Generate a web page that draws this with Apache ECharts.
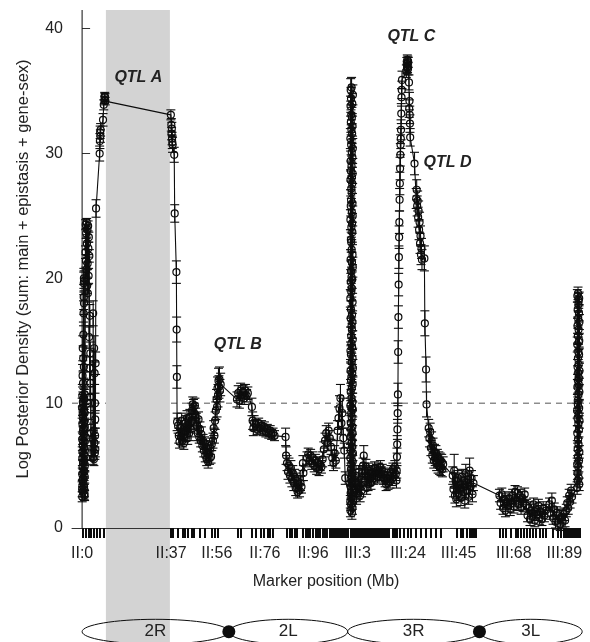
<!DOCTYPE html>
<html>
<head>
<meta charset="utf-8">
<script src="https://cdn.jsdelivr.net/npm/echarts@6/dist/echarts.min.js"></script>
<style>
  html, body { margin: 0; padding: 0; background: #fff; }
  #main { width: 590px; height: 642px; }
</style>
</head>
<body>
<div id="main"></div>
<script>
// [marker position on chromosome (Mb), log posterior density, error half-width]
var chr2 = [
  [0.00, 3.1, 0.6], [0.02, 9.6, 0.8], [0.04, 2.5, 0.4], [0.06, 7.1, 0.6], [0.08, 4.3, 0.5],
  [0.10, 10.6, 0.9], [0.12, 5.6, 0.6], [0.14, 3.4, 0.5], [0.16, 8.3, 0.7], [0.18, 6.1, 0.6],
  [0.20, 12.2, 0.9], [0.22, 4.9, 0.5], [0.24, 9.1, 0.7], [0.26, 3.8, 0.5], [0.28, 14.4, 1.0],
  [0.30, 6.6, 0.6], [0.32, 10.1, 0.8], [0.34, 2.9, 0.4], [0.36, 7.8, 0.7], [0.38, 5.2, 0.5],
  [0.40, 11.6, 0.9], [0.42, 8.8, 0.7], [0.44, 4.0, 0.5], [0.46, 13.6, 1.0], [0.48, 6.9, 0.6],
  [0.50, 9.9, 0.8], [0.52, 3.6, 0.5], [0.54, 15.5, 1.0], [0.56, 8.0, 0.7], [0.58, 5.9, 0.6],
  [0.60, 17.2, 1.0], [0.62, 10.4, 0.8], [0.64, 4.6, 0.5], [0.66, 18.5, 1.0], [0.68, 7.5, 0.7],
  [0.70, 19.6, 0.9], [0.72, 12.9, 0.9], [0.74, 20.0, 0.8], [0.76, 9.4, 0.8], [0.78, 18.0, 0.9],
  [0.80, 5.4, 0.6], [0.82, 19.8, 0.8], [0.84, 3.3, 0.5], [0.86, 8.5, 0.7], [0.88, 2.7, 0.4],
  [0.90, 6.4, 0.6], [0.92, 10.3, 0.8], [0.94, 4.5, 0.5], [0.96, 7.9, 0.7], [0.98, 3.0, 0.5],
  [1.00, 9.2, 0.7], [1.02, 5.8, 0.6], [1.04, 2.6, 0.4], [1.06, 6.9, 0.6], [1.08, 10.7, 0.8],
  [1.10, 4.1, 0.5], [1.12, 8.1, 0.7], [1.14, 5.0, 0.5],
  [1.40, 22.1, 0.5], [1.50, 24.3, 0.4], [1.60, 21.4, 0.5], [1.70, 23.6, 0.4], [1.80, 20.7, 0.6],
  [1.90, 24.5, 0.3], [2.00, 22.8, 0.5], [2.10, 19.4, 0.6], [2.20, 23.9, 0.4], [2.30, 21.2, 0.5],
  [2.40, 18.8, 0.7], [2.50, 24.2, 0.4], [2.60, 22.4, 0.5], [2.70, 20.2, 0.6], [2.80, 23.3, 0.4],
  [2.90, 15.3, 0.9], [3.00, 21.8, 0.5], [3.10, 12.8, 0.9], [3.20, 17.0, 0.9], [3.30, 10.5, 0.8],
  [3.40, 14.0, 0.9], [3.50, 11.6, 0.9], [3.60, 9.5, 0.8], [3.70, 7.6, 0.7], [3.80, 6.0, 0.6],
  [4.40, 7.2, 0.6], [4.50, 5.6, 0.5], [4.60, 17.2, 1.0], [4.70, 6.4, 0.6], [4.80, 7.8, 0.6],
  [4.90, 5.5, 0.5], [5.00, 14.4, 1.0], [5.10, 6.8, 0.6], [5.20, 12.4, 0.9], [5.30, 6.0, 0.5],
  [5.35, 10.0, 0.8], [5.40, 7.4, 0.6], [5.45, 8.7, 0.7], [5.50, 6.3, 0.6], [5.60, 13.2, 0.9],
  [5.80, 25.6, 0.7], [7.30, 30.0, 0.6], [7.40, 31.0, 0.6], [7.50, 31.7, 0.5], [7.60, 31.4, 0.5],
  [7.70, 31.9, 0.5], [8.70, 32.7, 0.5], [9.00, 33.9, 0.4], [9.30, 34.3, 0.3], [9.40, 34.6, 0.3],
  [9.50, 34.5, 0.3], [9.60, 34.2, 0.3],
  [36.90, 33.1, 0.4], [37.10, 32.3, 0.5], [37.20, 31.6, 0.5], [37.30, 32.0, 0.5], [37.40, 31.2, 0.5],
  [37.50, 30.9, 0.5], [37.60, 30.7, 0.6], [38.30, 29.9, 0.6], [38.50, 25.2, 0.7], [39.20, 20.5, 0.9],
  [39.30, 15.9, 1.0], [39.40, 12.1, 0.9], [39.50, 8.5, 0.7],
  [39.90, 8.2, 0.6], [40.20, 7.4, 0.6], [40.50, 6.9, 0.5], [40.80, 8.0, 0.6], [41.10, 7.3, 0.6],
  [41.40, 8.6, 0.6], [41.70, 7.0, 0.5], [42.00, 7.7, 0.6], [42.30, 6.8, 0.5], [42.60, 7.5, 0.6],
  [43.00, 8.4, 0.6], [43.30, 7.8, 0.6], [43.60, 8.8, 0.6], [43.90, 7.2, 0.5], [44.20, 8.3, 0.6],
  [44.50, 7.6, 0.6], [44.80, 8.9, 0.6], [45.10, 7.9, 0.6], [45.40, 8.5, 0.6],
  [45.70, 9.4, 0.6], [46.00, 9.9, 0.6], [46.30, 9.7, 0.6], [46.60, 9.2, 0.6], [46.90, 9.8, 0.6],
  [47.20, 9.0, 0.6], [47.50, 8.6, 0.6], [47.80, 8.2, 0.6], [48.10, 7.6, 0.6], [48.40, 8.7, 0.6],
  [48.70, 7.3, 0.5], [49.00, 7.9, 0.6], [49.30, 7.0, 0.5], [49.60, 7.5, 0.6],
  [50.00, 6.6, 0.5], [50.30, 7.0, 0.5], [50.60, 6.2, 0.5], [50.90, 6.8, 0.5], [51.20, 5.8, 0.5],
  [51.50, 6.5, 0.5], [51.80, 5.5, 0.5], [52.10, 6.1, 0.5], [52.40, 5.3, 0.5], [52.70, 5.9, 0.5],
  [53.00, 5.6, 0.5], [53.30, 6.4, 0.5], [53.60, 5.7, 0.5], [53.90, 6.7, 0.5],
  [54.40, 7.0, 0.6], [54.70, 8.0, 0.6], [55.00, 7.4, 0.6], [55.30, 8.6, 0.7],
  [55.60, 9.4, 0.7], [55.90, 10.3, 0.8], [56.10, 9.7, 0.8], [56.30, 11.2, 0.9], [56.50, 10.6, 0.9],
  [56.70, 11.8, 1.0], [56.90, 11.3, 0.9], [57.10, 11.9, 1.0], [57.30, 11.0, 0.9], [57.60, 11.5, 0.9],
  [64.40, 10.3, 0.6], [64.90, 10.8, 0.6], [65.40, 10.2, 0.6], [65.90, 11.0, 0.6], [66.40, 10.5, 0.6],
  [66.90, 10.9, 0.5], [67.40, 10.4, 0.5], [67.90, 11.0, 0.5], [68.40, 10.6, 0.5], [68.90, 10.8, 0.5],
  [70.60, 9.7, 0.7], [70.90, 8.6, 0.7], [71.20, 8.0, 0.6], [71.50, 8.4, 0.6],
  [72.20, 8.3, 0.4], [72.80, 7.9, 0.4], [73.40, 8.4, 0.4], [74.00, 8.0, 0.4], [74.60, 8.2, 0.4],
  [75.20, 7.8, 0.4], [75.80, 8.1, 0.4], [76.40, 7.7, 0.4], [77.00, 7.9, 0.4], [77.60, 7.6, 0.4],
  [78.20, 7.8, 0.4], [78.80, 7.5, 0.4], [79.40, 7.6, 0.4], [80.00, 7.4, 0.4],
  [84.60, 7.3, 0.7], [84.80, 5.8, 0.7],
  [85.20, 5.2, 0.6], [85.60, 4.5, 0.6], [86.00, 5.0, 0.6], [86.40, 4.2, 0.6], [86.80, 4.8, 0.6],
  [87.20, 3.9, 0.6], [87.60, 4.4, 0.6], [88.00, 3.6, 0.6], [88.40, 4.1, 0.6], [88.80, 3.2, 0.6],
  [89.20, 3.8, 0.6], [89.60, 2.9, 0.5], [90.00, 3.5, 0.6], [90.40, 3.0, 0.5], [90.80, 3.6, 0.6],
  [91.20, 3.3, 0.5], [91.80, 5.2, 0.6], [92.00, 4.4, 0.6],
  [93.50, 5.6, 0.5], [94.00, 5.9, 0.5], [94.50, 5.4, 0.5], [95.00, 5.8, 0.5], [95.50, 5.2, 0.5],
  [96.00, 5.6, 0.5], [96.50, 5.0, 0.5], [97.00, 5.4, 0.5], [97.50, 4.8, 0.5], [98.00, 5.2, 0.5],
  [98.50, 4.7, 0.5], [99.00, 5.1, 0.5], [99.50, 4.9, 0.5],
  [100.00, 5.5, 0.6], [100.50, 6.3, 0.6], [101.00, 7.0, 0.6], [101.50, 7.6, 0.6], [102.00, 6.8, 0.6],
  [102.50, 7.8, 0.6], [103.00, 7.2, 0.6], [103.50, 6.5, 0.6], [104.00, 5.6, 0.6], [104.50, 5.2, 0.6],
  [105.00, 6.0, 0.6], [105.50, 5.4, 0.6],
  [106.20, 7.8, 0.8], [106.60, 8.8, 0.9], [107.00, 9.6, 1.0], [107.40, 10.4, 1.1], [107.80, 8.4, 0.9],
  [108.20, 9.2, 1.2], [108.60, 7.2, 0.8], [109.00, 6.2, 0.6], [109.40, 4.0, 0.5]
];

var chr3 = [
  [0.00, 2.1, 0.5], [0.01, 18.4, 0.7], [0.02, 5.6, 0.6], [0.03, 31.2, 0.8], [0.04, 9.8, 0.6],
  [0.05, 24.7, 0.8], [0.06, 1.4, 0.5], [0.07, 14.2, 0.7], [0.08, 27.9, 0.8], [0.09, 7.3, 0.6],
  [0.10, 33.8, 0.8], [0.11, 12.6, 0.7], [0.12, 3.9, 0.5], [0.13, 21.5, 0.8], [0.14, 29.4, 0.8],
  [0.15, 16.8, 0.7], [0.16, 6.2, 0.6], [0.17, 35.1, 0.9], [0.18, 10.9, 0.7], [0.19, 25.8, 0.8],
  [0.20, 2.8, 0.5], [0.21, 19.7, 0.7], [0.22, 32.5, 0.8], [0.23, 8.4, 0.6], [0.24, 23.1, 0.8],
  [0.25, 13.9, 0.7], [0.26, 4.7, 0.5], [0.27, 28.6, 0.8], [0.28, 17.5, 0.7], [0.29, 34.4, 0.9],
  [0.30, 11.8, 0.7], [0.31, 1.9, 0.5], [0.32, 26.3, 0.8], [0.33, 20.6, 0.8], [0.34, 7.9, 0.6],
  [0.35, 30.7, 0.8], [0.36, 15.4, 0.7], [0.37, 3.3, 0.5], [0.38, 22.9, 0.8], [0.39, 9.2, 0.6],
  [0.40, 33.1, 0.8], [0.41, 18.9, 0.7], [0.42, 5.1, 0.5], [0.43, 27.2, 0.8], [0.44, 12.1, 0.7],
  [0.45, 24.1, 0.8], [0.46, 2.4, 0.5], [0.47, 31.9, 0.8], [0.48, 14.8, 0.7], [0.49, 6.8, 0.6],
  [0.50, 20.1, 0.8], [0.51, 29.0, 0.8], [0.52, 10.4, 0.7], [0.53, 35.3, 0.8], [0.54, 16.2, 0.7],
  [0.55, 4.2, 0.5], [0.56, 26.9, 0.8], [0.57, 8.9, 0.6], [0.58, 22.3, 0.8], [0.59, 13.3, 0.7],
  [0.60, 3.6, 0.5], [0.61, 30.1, 0.8], [0.62, 19.2, 0.7], [0.63, 11.2, 0.7], [0.64, 25.3, 0.8],
  [0.65, 7.0, 0.6], [0.66, 32.9, 0.8], [0.67, 15.9, 0.7], [0.68, 1.2, 0.5], [0.69, 28.1, 0.8],
  [0.70, 21.3, 0.8], [0.71, 5.9, 0.6], [0.72, 17.1, 0.7], [0.73, 3.0, 0.5], [0.74, 24.4, 0.8],
  [0.75, 9.6, 0.6], [0.76, 31.6, 0.8], [0.77, 14.5, 0.7], [0.78, 6.5, 0.6], [0.79, 27.6, 0.8],
  [0.80, 2.0, 0.5], [0.81, 19.9, 0.7], [0.82, 12.4, 0.7], [0.83, 34.0, 0.8], [0.84, 8.1, 0.6],
  [0.85, 23.7, 0.8], [0.86, 4.4, 0.5], [0.87, 29.7, 0.8], [0.88, 16.5, 0.7], [0.89, 10.1, 0.7],
  [0.90, 26.0, 0.8], [0.91, 1.6, 0.5], [0.92, 21.9, 0.8], [0.93, 13.6, 0.7], [0.94, 32.2, 0.8],
  [0.95, 7.6, 0.6], [0.96, 18.1, 0.7], [0.97, 28.4, 0.8], [0.98, 5.3, 0.5], [0.99, 11.5, 0.7],
  [1.00, 25.0, 0.8], [1.01, 3.8, 0.5], [1.02, 15.1, 0.7], [1.03, 30.4, 0.8], [1.04, 9.5, 0.6],
  [1.05, 20.9, 0.8], [1.06, 2.6, 0.5], [1.07, 34.7, 0.8], [1.08, 12.8, 0.7], [1.09, 6.0, 0.6],
  [2.00, 3.0, 0.5], [2.30, 4.2, 0.5], [2.60, 2.4, 0.5], [2.90, 3.6, 0.5], [3.20, 2.8, 0.5],
  [3.50, 4.5, 0.5], [3.80, 3.2, 0.5], [4.10, 2.6, 0.5], [4.40, 3.9, 0.5], [4.70, 3.0, 0.5],
  [5.00, 4.4, 0.5], [5.30, 5.0, 0.6], [5.60, 5.8, 0.8], [5.90, 4.6, 0.6], [6.20, 3.8, 0.5],
  [6.50, 4.9, 0.6], [6.80, 3.2, 0.5], [7.10, 4.2, 0.5], [7.40, 3.5, 0.5], [7.70, 4.6, 0.6],
  [8.00, 3.9, 0.5], [8.30, 4.4, 0.5], [8.60, 3.6, 0.5], [8.90, 4.1, 0.5],
  [9.30, 4.5, 0.5], [9.70, 4.0, 0.5], [10.10, 4.8, 0.5], [10.50, 4.2, 0.5], [10.90, 4.6, 0.5],
  [11.30, 4.1, 0.5], [11.70, 4.7, 0.5], [12.10, 4.3, 0.5], [12.50, 4.9, 0.5], [12.90, 4.4, 0.5],
  [13.30, 4.6, 0.5], [13.70, 4.0, 0.5], [14.10, 4.3, 0.5],
  [14.50, 3.8, 0.5], [14.90, 3.5, 0.5], [15.30, 4.0, 0.5], [15.70, 3.6, 0.5], [16.10, 4.2, 0.5],
  [16.50, 3.7, 0.5], [16.90, 4.5, 0.5], [17.30, 3.9, 0.5], [17.70, 4.7, 0.5], [18.10, 4.1, 0.5],
  [18.50, 4.9, 0.5], [18.90, 4.3, 0.5],
  [19.20, 3.8, 0.6], [19.30, 4.6, 0.6], [19.40, 5.7, 0.7], [19.50, 6.7, 0.7], [19.60, 7.9, 0.8],
  [19.70, 9.2, 0.8], [19.80, 10.7, 0.9], [19.90, 14.1, 0.9], [20.00, 16.9, 0.9], [20.10, 19.5, 0.9],
  [20.20, 21.7, 0.9], [20.30, 23.3, 0.9], [20.40, 24.5, 0.9], [20.50, 26.3, 0.9], [20.60, 27.6, 0.9],
  [20.70, 28.8, 0.9], [20.80, 29.9, 0.9], [20.90, 30.7, 0.8], [21.00, 31.2, 0.8], [21.10, 31.9, 0.8],
  [21.20, 33.2, 0.8], [21.30, 34.5, 0.7], [21.40, 35.1, 0.7], [21.50, 35.9, 0.7],
  [23.30, 36.6, 0.5], [23.50, 37.2, 0.5], [23.60, 36.9, 0.5], [23.70, 37.5, 0.4], [23.80, 37.0, 0.5],
  [23.90, 37.4, 0.4], [24.00, 36.8, 0.5], [24.10, 37.3, 0.4],
  [24.40, 35.7, 0.6], [24.50, 33.6, 0.7], [24.60, 34.2, 0.7], [24.70, 33.1, 0.7], [24.80, 32.4, 0.7],
  [24.90, 31.3, 0.7], [26.70, 29.2, 0.9],
  [27.40, 26.4, 0.8], [27.60, 27.1, 0.8], [27.80, 25.8, 0.8], [28.00, 26.2, 0.8], [28.20, 24.9, 0.8],
  [28.40, 25.4, 0.8], [28.60, 23.9, 0.8], [28.80, 24.5, 0.8], [29.00, 22.8, 0.8], [29.20, 23.4, 0.8],
  [29.40, 21.9, 0.8], [29.60, 22.4, 0.8], [29.80, 21.5, 0.8],
  [30.80, 21.6, 1.0], [31.00, 16.4, 1.0], [31.50, 12.7, 1.0], [31.70, 9.9, 1.0],
  [32.60, 8.0, 0.7], [32.90, 7.2, 0.7], [33.20, 7.7, 0.7], [33.50, 6.4, 0.6], [33.80, 7.0, 0.7],
  [34.10, 5.8, 0.6], [34.40, 6.6, 0.6], [34.70, 5.4, 0.6], [35.00, 6.1, 0.6], [35.30, 5.6, 0.6],
  [35.60, 6.0, 0.6], [35.90, 5.2, 0.6], [36.20, 5.7, 0.6], [36.50, 5.0, 0.6], [36.80, 5.5, 0.6],
  [37.10, 4.9, 0.6], [37.40, 5.4, 0.6], [37.70, 4.8, 0.6], [38.00, 5.3, 0.6], [38.30, 4.7, 0.6],
  [38.60, 5.1, 0.6],
  [42.60, 4.2, 0.7], [42.90, 3.1, 0.6], [43.20, 4.6, 1.3], [43.50, 2.6, 0.6], [43.80, 3.8, 0.6],
  [44.10, 2.3, 0.6], [44.40, 3.4, 0.6], [44.70, 4.0, 0.6], [45.00, 2.8, 0.6],
  [45.60, 3.5, 0.6], [46.00, 2.4, 0.6], [46.40, 4.1, 0.6], [46.80, 2.9, 0.6], [47.20, 3.8, 0.6],
  [47.60, 2.2, 0.6], [48.00, 4.4, 0.7], [48.40, 3.0, 0.6], [48.80, 3.9, 0.6], [49.20, 2.5, 0.6],
  [49.60, 4.6, 1.0], [50.00, 3.3, 0.6], [50.40, 4.0, 0.6], [50.80, 2.7, 0.6], [51.20, 3.6, 0.6],
  [62.00, 2.6, 0.5],
  [62.50, 2.0, 0.5], [63.00, 2.7, 0.5], [63.50, 1.6, 0.5], [64.00, 2.3, 0.5], [64.50, 1.4, 0.5],
  [65.00, 2.1, 0.5], [65.50, 1.8, 0.5], [66.00, 2.4, 0.5], [66.50, 1.5, 0.5], [67.00, 2.0, 0.5],
  [67.50, 2.6, 0.5], [68.00, 1.7, 0.5],
  [68.50, 2.9, 0.5], [69.00, 2.2, 0.5], [69.50, 2.8, 0.5], [70.00, 1.9, 0.5], [70.50, 2.6, 0.5],
  [71.00, 1.6, 0.5], [71.50, 2.4, 0.5], [72.00, 2.0, 0.5], [72.50, 2.7, 0.5],
  [73.20, 1.8, 0.5], [73.70, 1.0, 0.5], [74.20, 1.6, 0.5], [74.70, 0.7, 0.5], [75.20, 1.4, 0.5],
  [75.70, 0.9, 0.5], [76.20, 1.9, 0.5], [76.70, 0.6, 0.5], [77.20, 1.5, 0.5], [77.70, 1.1, 0.5],
  [78.20, 1.8, 0.5], [78.70, 0.8, 0.5], [79.20, 1.3, 0.5], [79.70, 0.7, 0.5], [80.20, 1.6, 0.5],
  [80.70, 1.0, 0.5], [81.20, 1.4, 0.5],
  [82.80, 1.9, 0.5], [83.30, 1.2, 0.5], [83.80, 2.2, 0.6], [84.30, 0.8, 0.5], [84.80, 1.5, 0.5],
  [85.30, 0.5, 0.5], [85.80, 1.2, 0.5], [86.30, 0.4, 0.5], [86.80, 1.0, 0.5], [87.30, 0.3, 0.5],
  [87.80, 0.9, 0.5], [88.30, 0.5, 0.5], [88.80, 1.1, 0.5], [89.30, 0.6, 0.5],
  [89.80, 1.4, 0.5], [90.20, 2.0, 0.5], [90.60, 1.6, 0.5], [91.00, 2.6, 0.5], [91.40, 2.1, 0.5],
  [91.80, 3.0, 0.5], [92.20, 2.5, 0.5],
  [94.30, 3.2, 0.5], [94.32, 9.4, 0.6], [94.34, 5.1, 0.5], [94.36, 14.7, 0.6], [94.38, 7.6, 0.6],
  [94.40, 18.6, 0.5], [94.42, 11.3, 0.6], [94.44, 4.4, 0.5], [94.46, 16.2, 0.6], [94.48, 8.8, 0.6],
  [94.50, 12.9, 0.6], [94.52, 6.3, 0.5], [94.54, 17.5, 0.6], [94.56, 10.2, 0.6], [94.58, 3.8, 0.5],
  [94.60, 15.4, 0.6], [94.62, 9.9, 0.6], [94.64, 13.6, 0.6], [94.66, 5.7, 0.5], [94.68, 18.8, 0.5],
  [94.70, 11.8, 0.6], [94.72, 7.1, 0.6], [94.74, 16.8, 0.6], [94.76, 12.4, 0.6], [94.78, 4.9, 0.5],
  [94.80, 14.1, 0.6], [94.82, 8.3, 0.6], [94.84, 17.9, 0.6], [94.86, 10.7, 0.6], [94.88, 6.7, 0.5],
  [94.90, 15.9, 0.6], [94.92, 13.1, 0.6], [94.94, 9.1, 0.6], [94.96, 18.2, 0.6], [94.98, 11.5, 0.6],
  [95.00, 14.9, 0.6], [95.02, 4.0, 0.5], [95.04, 12.0, 0.6], [95.06, 7.9, 0.6], [95.08, 17.2, 0.6],
  [95.10, 5.4, 0.5], [95.12, 13.9, 0.6], [95.14, 9.6, 0.6], [95.16, 18.4, 0.5], [95.18, 3.5, 0.5],
  [95.20, 15.0, 0.6], [95.22, 10.9, 0.6], [95.24, 6.1, 0.5], [95.26, 16.5, 0.6], [95.28, 12.6, 0.6],
  [95.30, 8.6, 0.6]
];

// genotyped marker positions shown as the rug under the axis
var chr2Markers = [0.4, 1.6, 2.7, 3.7, 4.9, 6.2, 7.4, 9.1,
  36.9, 37.7, 39.8, 41.9, 42.7, 43.9, 45.6, 46.4, 48.9, 51.0, 53.9, 55.2, 56.4,
  64.7, 65.9, 70.5, 72.2, 74.3, 75.5, 77.2, 78.0, 79.2,
  85.1, 86.3, 87.1, 88.4, 89.2, 91.7, 92.9, 93.8, 94.6, 95.9, 97.1, 97.9, 98.8,
  100.0, 100.9, 101.7, 102.9, 103.7, 104.6, 105.4, 106.2, 107.1, 107.9, 108.7, 109.5, 110.3];
var chr3Markers = [0.1, 0.95, 1.8, 2.6, 3.4, 4.3, 5.1, 5.9, 6.8, 7.6, 8.4, 9.3, 10.1, 10.9,
  11.8, 12.6, 13.4, 14.2, 15.1, 15.9, 17.6, 18.4, 19.2, 20.5, 22.1, 23.8, 25.0, 27.1,
  29.2, 31.2, 33.3, 35.4, 37.5, 44.1, 45.8, 46.6, 48.3, 49.5, 50.3, 51.2, 52.0,
  62.0, 63.2, 64.5, 66.6, 68.6, 69.5, 70.7, 72.0, 73.2, 74.5, 75.7, 77.0, 78.6, 79.9, 81.1,
  84.0, 86.1, 87.3, 88.6, 89.4, 90.3, 91.1, 91.9, 92.8, 93.6, 94.4, 95.2];

var chr3Offset = 111.5;
var tickLabels = [['II', 0], ['II', 37], ['II', 56], ['II', 76], ['II', 96],
                  ['III', 3], ['III', 24], ['III', 45], ['III', 68], ['III', 89]];
var yTicks = [0, 10, 20, 30, 40];
var threshold = 10;
var shadedBand = [9.9, 36.5];
var qtlLabels = [['QTL A', 23.4, 36.1], ['QTL B', 64.7, 14.7], ['QTL C', 136.9, 39.4], ['QTL D', 151.9, 29.3]];
var arms = [['2R', 0, 61], ['2L', 61, 110.4], ['3R', 110.4, 165.2], ['3L', 165.2, 207.9]];

var font = 'Liberation Sans';
var ink = '#0d0d0d';

// chromosome III is laid out after chromosome II
function shift(p) { return [p[0] + chr3Offset, p[1], p[2]]; }
var points = chr2.concat(chr3.map(shift));
var markerPositions = chr2Markers.concat(chr3Markers.map(function (m) { return m + chr3Offset; }));
var labelPositions = tickLabels.map(function (t) { return t[0] === 'III' ? t[1] + chr3Offset : t[1]; });

var chart = echarts.init(document.getElementById('main'));

var option = {
  animation: false,
  backgroundColor: '#fff',
  textStyle: { fontFamily: font },
  grid: { left: 72, right: 10, top: 10, bottom: 114, outerBoundsMode: 'none' },
  xAxis: {
    type: 'value', min: -4.2, max: 207, z: 3,
    name: 'Marker position (Mb)', nameLocation: 'middle', nameGap: 46,
    nameTextStyle: { fontSize: 16, color: '#222', fontFamily: font },
    axisLine: { show: true, onZero: false, lineStyle: { color: '#333', width: 1 } },
    axisTick: { show: true, length: 10, customValues: markerPositions, lineStyle: { color: ink, width: 2 } },
    axisLabel: {
      customValues: labelPositions, fontSize: 16, color: '#222', margin: 18, fontFamily: font,
      formatter: function (v) {
        for (var i = 0; i < tickLabels.length; i++) {
          if (Math.abs(labelPositions[i] - v) < 1e-6) return tickLabels[i][0] + ':' + tickLabels[i][1];
        }
        return '';
      }
    },
    splitLine: { show: false }
  },
  yAxis: {
    type: 'value', min: 0, max: 41.5,
    name: 'Log Posterior Density (sum: main + epistasis + gene-sex)',
    nameLocation: 'middle', nameGap: 40, nameMoveOverlap: false,
    nameTextStyle: { fontSize: 16.5, color: '#222', fontFamily: font },
    axisLine: { show: false },
    axisTick: { show: true, inside: true, length: 8, customValues: yTicks, lineStyle: { color: '#333', width: 1 } },
    axisLabel: { customValues: yTicks, fontSize: 16, color: '#222', margin: 9, fontFamily: font },
    splitLine: { show: false }
  },
  series: [
    {
      type: 'line',
      data: points.map(function (p) { return [p[0], p[1]]; }),
      symbol: 'circle', symbolSize: 7, showSymbol: true,
      itemStyle: { color: 'rgba(0,0,0,0)', borderColor: ink, borderWidth: 1.2 },
      lineStyle: { color: ink, width: 1.1 },
      emphasis: { disabled: true },
      z: 4
    },
    {
      type: 'custom',
      data: points,
      encode: { x: 0, y: 1 },
      z: 4,
      renderItem: function (params, api) {
        var x = api.value(0), y = api.value(1), e = api.value(2);
        var hi = api.coord([x, y + e]), lo = api.coord([x, y - e]);
        var w = 4.5;
        var st = { stroke: ink, lineWidth: 1.1 };
        return {
          type: 'group',
          children: [
            { type: 'line', shape: { x1: hi[0], y1: hi[1], x2: lo[0], y2: lo[1] }, style: st },
            { type: 'line', shape: { x1: hi[0] - w, y1: hi[1], x2: hi[0] + w, y2: hi[1] }, style: st },
            { type: 'line', shape: { x1: lo[0] - w, y1: lo[1], x2: lo[0] + w, y2: lo[1] }, style: st }
          ]
        };
      }
    }
  ]
};

chart.setOption(option);

function px(v) { return chart.convertToPixel({ gridIndex: 0 }, [v, 0])[0]; }
function py(v) { return chart.convertToPixel({ gridIndex: 0 }, [0, v])[1]; }

var W = chart.getWidth(), H = chart.getHeight();
var elements = [];

// dashed threshold line sits under the shaded region
elements.push({
  type: 'line', z: 0,
  shape: { x1: px(-4.2), y1: py(threshold), x2: W, y2: py(threshold) },
  style: { stroke: '#555', lineWidth: 1, lineDash: [6, 5] }
});
elements.push({
  type: 'rect', z: 1,
  shape: { x: px(shadedBand[0]), y: py(41.5), width: px(shadedBand[1]) - px(shadedBand[0]), height: H - py(41.5) },
  style: { fill: '#d3d3d3' }
});
// vertical axis line at position 0
elements.push({
  type: 'line', z: 3,
  shape: { x1: px(0), y1: py(0), x2: px(0), y2: py(41.5) },
  style: { stroke: ink, lineWidth: 1 }
});

// chromosome arm schematic under the axis
var cy = 631.7, ry = 12.4;
arms.forEach(function (a) {
  var x1 = px(a[1]), x2 = px(a[2]);
  elements.push({
    type: 'ellipse', z: 3,
    shape: { cx: (x1 + x2) / 2, cy: cy, rx: (x2 - x1) / 2, ry: ry },
    style: { fill: 'none', stroke: ink, lineWidth: 1 }
  });
  elements.push({
    type: 'text', z: 4, x: (x1 + x2) / 2, y: cy,
    style: { text: a[0], font: '17px ' + font, fill: '#222', textAlign: 'center', textVerticalAlign: 'middle' }
  });
});
[arms[0][2], arms[2][2]].forEach(function (c) {
  elements.push({
    type: 'circle', z: 4,
    shape: { cx: px(c), cy: cy, r: 6.5 },
    style: { fill: ink }
  });
});

qtlLabels.forEach(function (q) {
  elements.push({
    type: 'text', z: 5, x: px(q[1]), y: py(q[2]),
    style: { text: q[0], font: 'italic bold 16px ' + font, fill: '#222', textAlign: 'center', textVerticalAlign: 'middle' }
  });
});

chart.setOption({ graphic: { elements: elements } });
</script>
</body>
</html>
